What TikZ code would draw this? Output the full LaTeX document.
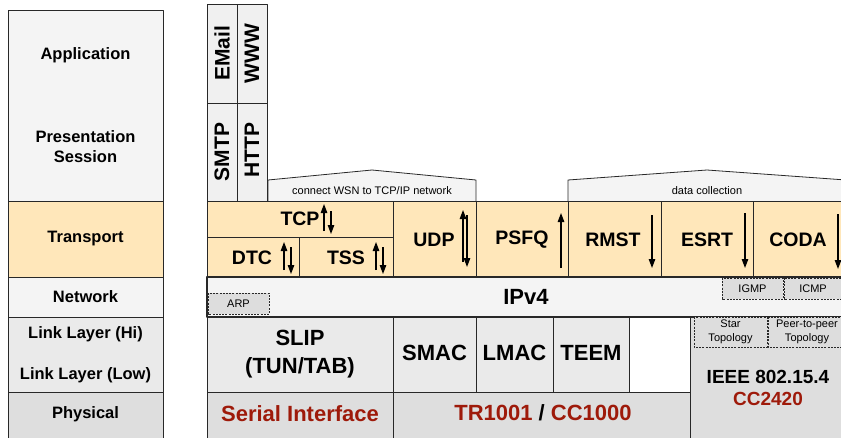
\documentclass[tikz,border=0pt]{standalone}
\usepackage{fontspec}
\setmainfont{Liberation Sans}
\usetikzlibrary{arrows.meta}
\definecolor{Afill}{RGB}{244,244,244}
\definecolor{Mfill}{RGB}{240,240,240}
\definecolor{Tfill}{RGB}{255,231,186}
\definecolor{Lfill}{RGB}{234,234,234}
\definecolor{Pfill}{RGB}{222,222,222}
\definecolor{Dfill}{RGB}{221,221,221}
\definecolor{Rtext}{RGB}{158,26,10}
\definecolor{Edge}{RGB}{40,40,40}

\begin{document}
\begin{tikzpicture}[x=1pt,y=-1pt,line join=round,
  cell/.style={draw=Edge,line width=0.8pt},
  dashcell/.style={draw=Edge,line width=0.8pt,dash pattern=on 2pt off 1.2pt,fill=Dfill},
  side/.style={font=\bfseries\fontsize{16.5}{20}\selectfont,align=center},
  big/.style={font=\bfseries\fontsize{19.5}{22}\selectfont},
  huge/.style={font=\bfseries\fontsize{22}{28}\selectfont,align=center},
  small/.style={font=\fontsize{11}{14}\selectfont,align=center},
  vert/.style={rotate=90,font=\bfseries\fontsize{21}{22}\selectfont},
  flow/.style={line width=1.2pt,-{Triangle[length=9pt,width=6.5pt]}}]
\useasboundingbox (0,0) rectangle (841,437);
\clip (0,0) rectangle (841,437);

% left column: OSI layers
\draw[cell,fill=Afill] (8,10) rectangle (163,201);
\draw[cell,fill=Tfill] (8,201) rectangle (163,277);
\draw[cell,fill=Afill] (8,277) rectangle (163,317);
\draw[cell,fill=Lfill] (8,317) rectangle (163,392);
\draw[cell,fill=Pfill] (8,392) rectangle (163,445);
\node[side] (app) at (85.5,55) {Application};
\node[side] (pres) at (85.5,147) {Presentation\\Session};
\node[side] (trans) at (85.5,239) {Transport};
\node[side] (net) at (85.5,297) {Network};
\node[side] (linkhi) at (85.5,334) {Link Layer (Hi)};
\node[side] (linklow) at (85.5,375) {Link Layer (Low)};
\node[side] (phys) at (85.5,414) {Physical};

% application protocols
\draw[cell,fill=Mfill] (207,4) rectangle (237,103);
\draw[cell,fill=Mfill] (237,4) rectangle (267,103);
\draw[cell,fill=Mfill] (207,103) rectangle (237,201);
\draw[cell,fill=Mfill] (237,103) rectangle (267,201);
\node[vert] (email) at (222,53.5) {EMail};
\node[vert] (www) at (252,53.5) {WWW};
\node[vert] (smtp) at (222,152) {SMTP};
\node[vert] (http) at (252,150) {HTTP};

% roofs
\draw[cell,fill=Afill] (268,201) -- (268,180) -- (372,170) -- (476,180) -- (476,201);
\node[small] (wsn) at (372,191) {connect WSN to TCP/IP network};
\draw[cell,fill=Afill] (568,201) -- (568,180) -- (707,170) -- (846,180) -- (846,201);
\node[small] (collect) at (707,191) {data collection};

% transport
\draw[cell,fill=Tfill] (207,201) rectangle (393,237);
\draw[cell,fill=Tfill] (207,237) rectangle (299,277);
\draw[cell,fill=Tfill] (299,237) rectangle (393,277);
\draw[cell,fill=Tfill] (393,201) rectangle (476,277);
\draw[cell,fill=Tfill] (476,201) rectangle (568,277);
\draw[cell,fill=Tfill] (568,201) rectangle (661,277);
\draw[cell,fill=Tfill] (661,201) rectangle (753,277);
\draw[cell,fill=Tfill] (753,201) rectangle (846,277);
\node[big] (tcp) at (300,219) {TCP};
\node[big] (dtc) at (252,258) {DTC};
\node[big] (tss) at (346,258) {TSS};
\node[big] (udp) at (434,240) {UDP};
\node[big] (psfq) at (522,240) {PSFQ};
\node[big] (rmst) at (613,240) {RMST};
\node[big] (esrt) at (707,240) {ESRT};
\node[big] (coda) at (798,240) {CODA};
\draw[flow] (324,231) -- (324,204);
\draw[flow] (331,211) -- (331,234);
\draw[flow] (284,270) -- (284,242);
\draw[flow] (291,247) -- (291,274);
\draw[flow] (376,270) -- (376,242);
\draw[flow] (383,247) -- (383,274);
\draw[flow] (463,262) -- (463,210);
\draw[flow] (467,215) -- (467,267);
\draw[flow] (561,268) -- (561,213);
\draw[flow] (652,215) -- (652,268);
\draw[flow] (745,213) -- (745,268);
\draw[flow] (838,214) -- (838,269);

% network
\draw[cell,fill=Afill,line width=1.6pt] (207,277) rectangle (846,317);
\node[huge] (ipv4) at (526,297) {IPv4};
\draw[dashcell] (208,293) rectangle (269,314);
\node[small] (arp) at (238.5,303.5) {ARP};
\draw[dashcell] (722,278) rectangle (783,299);
\node[small] (igmp) at (752.5,288.5) {IGMP};
\draw[dashcell] (784,278) rectangle (846,299);
\node[small] (icmp) at (813,288.5) {ICMP};

% link layer
\draw[cell,fill=Lfill] (207,317) rectangle (393,392);
\draw[cell,fill=Lfill] (393,317) rectangle (476,392);
\draw[cell,fill=Lfill] (476,317) rectangle (553,392);
\draw[cell,fill=Lfill] (553,317) rectangle (629,392);
\draw[cell,fill=white] (629,317) rectangle (690,392);
\draw[cell,fill=Pfill] (690,317) rectangle (846,445);
\node[huge] (slip) at (300,354) {SLIP\\(TUN/TAB)};
\node[huge] (smac) at (434.5,353) {SMAC};
\node[huge] (lmac) at (514.5,353) {LMAC};
\node[huge] (teem) at (591,353) {TEEM};
\draw[dashcell] (694,317) rectangle (767,347);
\node[small] (star) at (730.5,332) {Star\\Topology};
\draw[dashcell] (768,317) rectangle (846,347);
\node[small] (p2p) at (807,332) {Peer-to-peer\\Topology};
\node[font=\bfseries\fontsize{19}{22}\selectfont] (ieee) at (768,377) {IEEE 802.15.4};
\node[font=\bfseries\fontsize{19}{22}\selectfont,text=Rtext] (cc2420) at (768,399) {CC2420};

% physical
\draw[cell,fill=Pfill] (207,392) rectangle (393,445);
\draw[cell,fill=Pfill] (393,392) rectangle (690,445);
\node[huge,text=Rtext] (serial) at (300,414) {Serial Interface};
\node[huge,text=Rtext] (radio) at (543,413) {TR1001 \textcolor{black}{/} CC1000};
\end{tikzpicture}
\end{document}
